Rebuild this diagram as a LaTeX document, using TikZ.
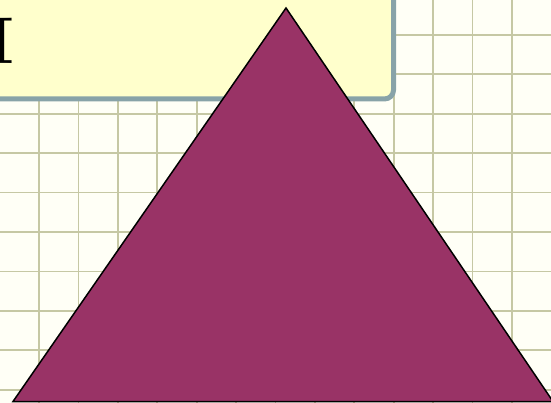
\documentclass[tikz,border=0pt]{standalone}
\usepackage{fontspec}
\definecolor{bgpaper}{HTML}{FFFFF6}
\definecolor{gridcol}{HTML}{C6C8A4}
\definecolor{boxfill}{HTML}{FFFFCC}
\definecolor{boxedge}{HTML}{88A3A8}
\definecolor{trifill}{HTML}{993366}
\tikzset{
  gridline/.style={draw=gridcol, line width=1.8pt},
  notebox/.style={fill=boxfill, draw=boxedge, line width=5pt, rounded corners=9pt},
  bigletter/.style={font=\fontsize{66}{72}\selectfont\bfseries, inner sep=0pt, anchor=center},
  tri/.style={fill=trifill, draw=black, line width=1.5pt, line join=miter},
}
\begin{document}
\begin{tikzpicture}[x=1pt,y=-1pt]
\useasboundingbox (0,0) rectangle (551,403);
\clip (0,0) rectangle (551,403);
\fill[bgpaper] (0,0) rectangle (551,403);
\foreach \k in {0,...,12} \draw[gridline] ({39+39.4*\k},0) -- ({39+39.4*\k},403);
\foreach \k in {1,...,10} \draw[gridline] (0,{-4.4+39.4*\k}) -- (551,{-4.4+39.4*\k});
\draw[notebox] (-30,-30) rectangle (393.5,99);
\node[bigletter] (letter) at (0.5,41.3) {I};
\coordinate (apex) at (286,8);
\coordinate (bl) at (13,401.5);
\coordinate (br) at (553,401.5);
\draw[tri] (apex) -- (br) -- (bl) -- cycle;
\end{tikzpicture}
\end{document}
